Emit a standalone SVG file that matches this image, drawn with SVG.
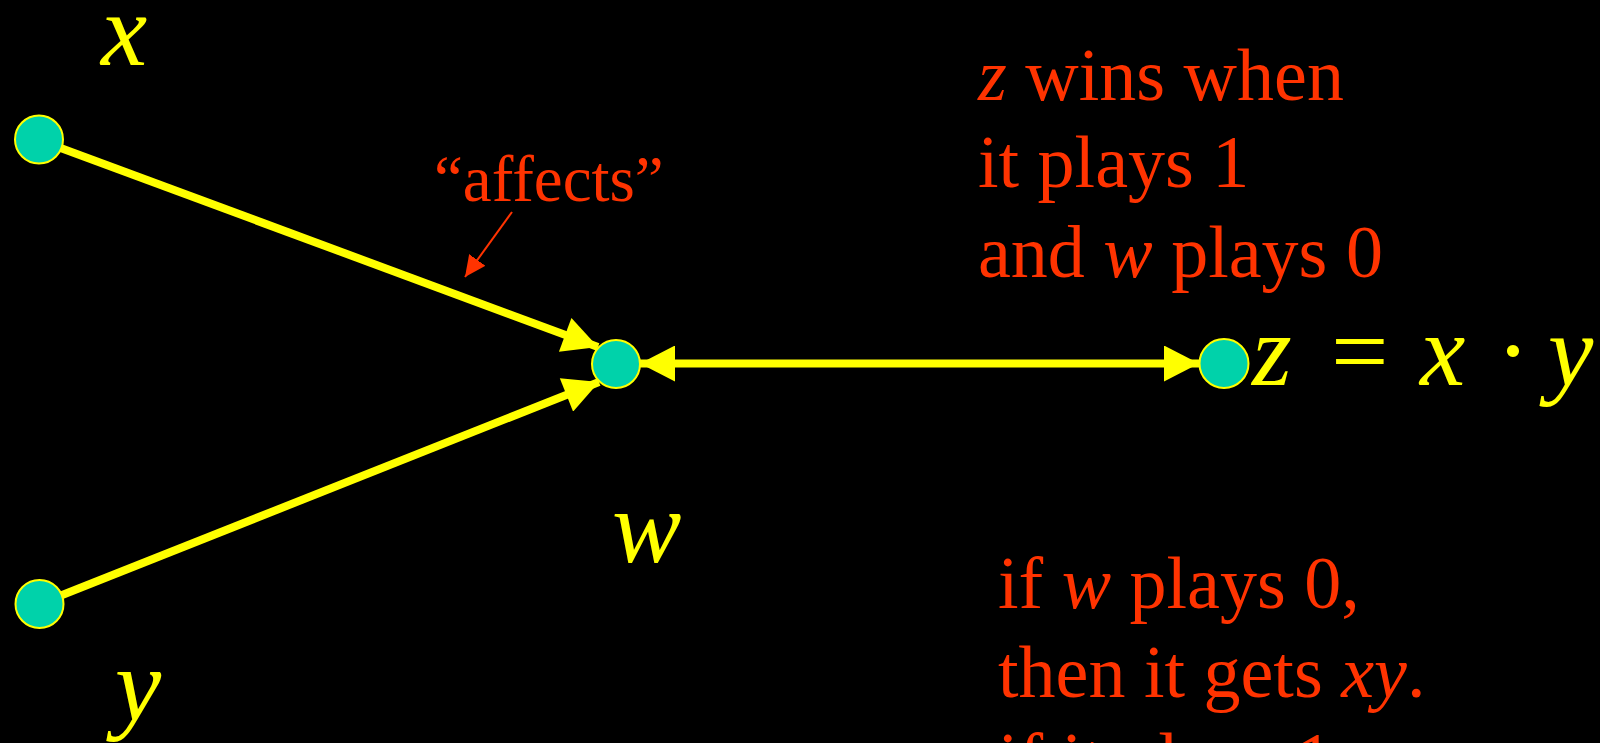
<svg xmlns="http://www.w3.org/2000/svg" width="1600" height="743" viewBox="0 0 1600 743">
<style>
.bg{fill:#000000}
.node{fill:#00D2AA;stroke:#FFFF00;stroke-width:2}
.edge{stroke:#FFFF00;stroke-width:8;fill:none}
.note{stroke:#FF3300;stroke-width:2;fill:none}
.lbl{font-family:"Liberation Serif","Times New Roman",serif;font-style:italic;font-size:104px;fill:#FFFF00}
.eq{font-family:"Liberation Serif","Times New Roman",serif;font-size:102px;fill:#FFFF00}
.red{font-family:"Liberation Serif","Times New Roman",serif;font-size:74px;fill:#FF3300}
.it{font-style:italic}
</style>
<defs>
<marker id="ah" markerUnits="userSpaceOnUse" markerWidth="36" markerHeight="36" viewBox="0 0 35 36" refX="35" refY="18" orient="auto-start-reverse">
<path d="M0,0 L35,18 L0,36 Z" fill="#FFFF00"/>
</marker>
<marker id="rah" markerUnits="userSpaceOnUse" markerWidth="21" markerHeight="20" viewBox="0 0 21 20" refX="21" refY="10" orient="auto">
<path d="M0,0 L21,10 L0,20 Z" fill="#FF3300"/>
</marker>
</defs>
<rect class="bg" x="0" y="0" width="1600" height="743"/>
<g id="connectors">
<line class="edge" x1="39" y1="140" x2="598" y2="347" marker-end="url(#ah)"/>
<line class="edge" x1="39.5" y1="604" x2="599" y2="382" marker-end="url(#ah)"/>
<line class="edge" x1="640" y1="363.5" x2="1199" y2="363.5" marker-start="url(#ah)" marker-end="url(#ah)"/>
<line class="note" x1="512" y1="212" x2="465" y2="277" marker-end="url(#rah)"/>
</g>
<g id="node-x">
<circle class="node" cx="39" cy="139.5" r="24"/>
<text class="lbl" x="101" y="65">x</text>
</g>
<g id="node-y">
<circle class="node" cx="39.5" cy="604" r="24"/>
<text class="lbl" x="115" y="720">y</text>
</g>
<g id="node-w">
<circle class="node" cx="616" cy="364" r="24"/>
<text class="lbl" x="612" y="562">w</text>
</g>
<g id="node-z">
<circle class="node" cx="1224" cy="363.5" r="24.5"/>
<text class="eq" y="385"><tspan class="it" x="1252">z</tspan><tspan x="1331">=</tspan><tspan class="it" x="1420">x</tspan><tspan x="1496">·</tspan><tspan class="it" x="1548">y</tspan></text>
</g>
<g id="label-affects">
<text class="red" x="434" y="201" style="font-size:65px">“affects”</text>
</g>
<g id="note-top">
<text class="red" x="978" y="100"><tspan class="it">z</tspan> wins when</text>
<text class="red" x="978" y="187">it plays 1</text>
<text class="red" x="978" y="277">and <tspan class="it">w</tspan> plays 0</text>
</g>
<g id="note-bottom">
<text class="red" x="998" y="608">if <tspan class="it">w</tspan> plays 0,</text>
<text class="red" x="998" y="697">then it gets <tspan class="it">xy</tspan>.</text>
<text class="red" x="998" y="784">if it plays 1</text>
</g>
</svg>
